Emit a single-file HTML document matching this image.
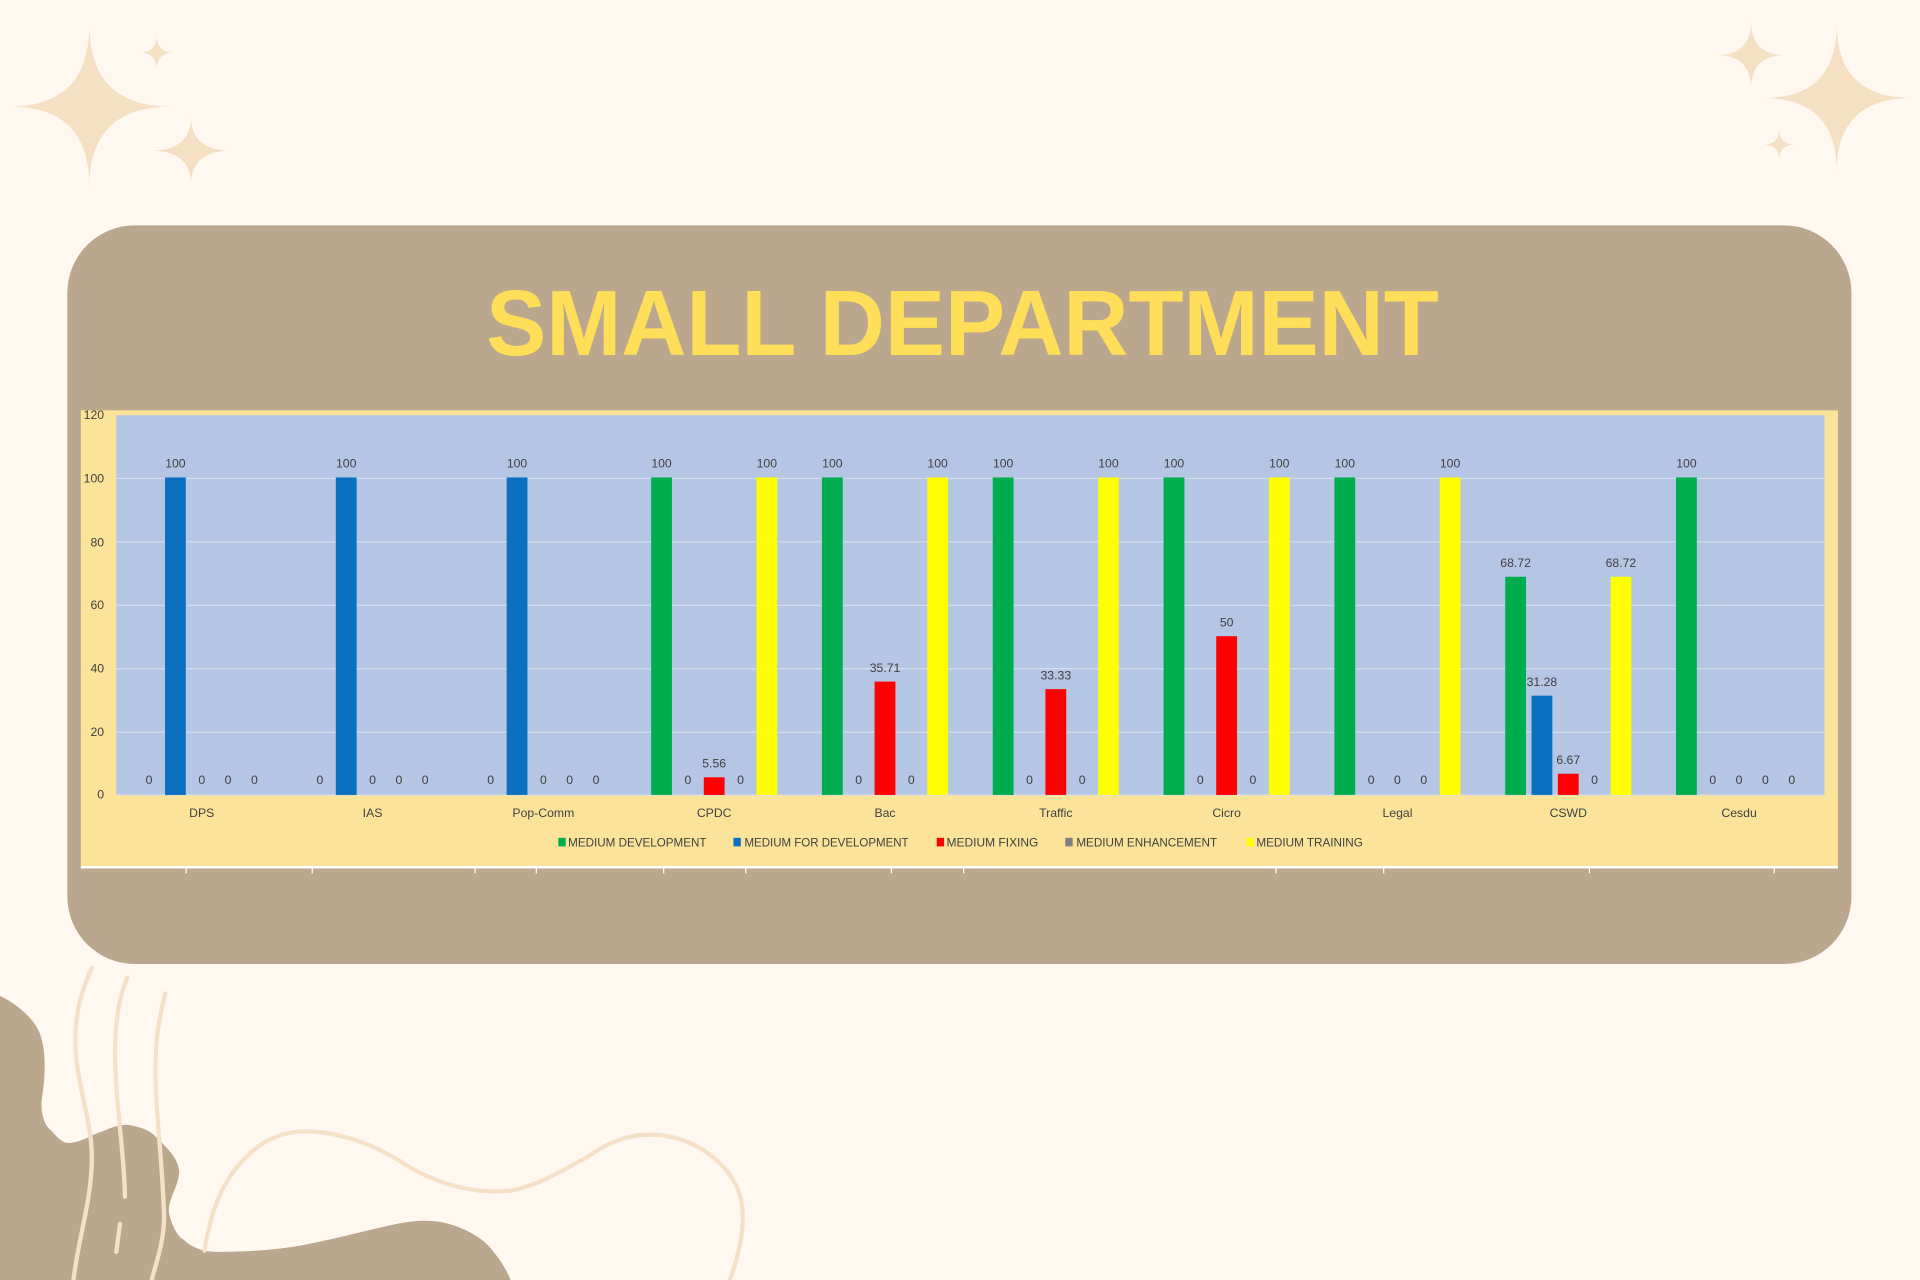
<!DOCTYPE html>
<html><head><meta charset="utf-8"><style>html,body{margin:0;padding:0;background:#FEF8F0;}svg{display:block}</style></head>
<body>
<svg width="1920" height="1280" viewBox="0 0 1568 1045" preserveAspectRatio="none" xmlns="http://www.w3.org/2000/svg" font-family="'Liberation Sans', sans-serif">
<rect width="1568" height="1045" fill="#FEF8F0"/>
<g fill="#F5E0C3">
<path d="M73,20 Q73,87 140,87 Q73,87 73,152 Q73,87 8,87 Q73,87 73,20Z"/>
<path d="M128,29 Q128,43 142,43 Q128,43 128,57 Q128,43 114,43 Q128,43 128,29Z"/>
<path d="M156,95 Q156,123 189,123 Q156,123 156,151 Q156,123 123,123 Q156,123 156,95Z"/>
<path d="M1500,20 Q1500,80 1562,80 Q1500,80 1500,140 Q1500,80 1440,80 Q1500,80 1500,20Z"/>
<path d="M1430,17 Q1430,45 1458,45 Q1430,45 1430,73 Q1430,45 1402,45 Q1430,45 1430,17Z"/>
<path d="M1453,105 Q1453,118 1466,118 Q1453,118 1453,131 Q1453,118 1440,118 Q1453,118 1453,105Z"/>
</g>
<path d="M0,813 C15,820 29,833 33,845 C38,860 37,880 34,898 C33,910 37,920 42,923 C48,930 52,934 58,933 C68,932 75,926 83,924 C92,920 100,917 108,919 C118,921 124,924 129,930 C140,940 148,950 146,960 C144,972 137,980 138,990 C140,1000 145,1010 150,1012 C158,1020 168,1022 179,1022 C205,1022 230,1020 250,1016 C280,1010 305,1003 325,999 C345,995 360,996 375,1002 C390,1008 398,1015 403,1022 C410,1030 415,1040 417,1045 L0,1045Z" fill="#BBA78E"/>
<g fill="none" stroke="#F5E1C8" stroke-width="3.5" stroke-linecap="round">
<path d="M75,790 C66,810 60,830 62,860 C64,890 75,915 75,945 C75,980 64,1010 60,1045"/>
<path d="M104,798 C98,812 94,830 94,860 C94,900 102,945 102,977"/>
<path d="M98,999 L95,1022"/>
<path d="M135,811 C129,835 127,850 127,875 C127,910 133,950 134,994 C134,1015 126,1035 124,1045"/>
<path d="M167,1021 C172,990 180,968 196,950 C215,928 235,922 258,924 C290,927 315,940 333,952 C360,968 390,975 417,972 C440,968 460,955 479,945 C500,930 520,924 542,927 C575,932 598,955 604,975 C610,995 605,1020 596,1045"/>
</g>
<rect x="55" y="184" width="1457" height="603" rx="55" ry="55" fill="#BBA78E"/>
<text x="786" y="290" text-anchor="middle" font-size="76" font-weight="bold" fill="#FFDE59" textLength="778" lengthAdjust="spacingAndGlyphs">SMALL DEPARTMENT</text>
<rect x="66" y="335" width="1435" height="373" fill="#FCE39A"/>
<line x1="66" y1="708" x2="1501" y2="708" stroke="#FFFFFF" stroke-width="2"/>
<g stroke="#FFFFFF" stroke-width="1"><line x1="152" y1="708" x2="152" y2="713"/><line x1="255" y1="708" x2="255" y2="713"/><line x1="388" y1="708" x2="388" y2="713"/><line x1="438" y1="708" x2="438" y2="713"/><line x1="542" y1="708" x2="542" y2="713"/><line x1="609" y1="708" x2="609" y2="713"/><line x1="728" y1="708" x2="728" y2="713"/><line x1="787" y1="708" x2="787" y2="713"/><line x1="1042" y1="708" x2="1042" y2="713"/><line x1="1130" y1="708" x2="1130" y2="713"/><line x1="1298" y1="708" x2="1298" y2="713"/><line x1="1449" y1="708" x2="1449" y2="713"/></g>
<rect x="95" y="339" width="1395" height="310" fill="#B4C6E4"/>
<g stroke="#D3DCEC" stroke-width="1">
<line x1="95" y1="390.6" x2="1490" y2="390.6"/><line x1="95" y1="442.4" x2="1490" y2="442.4"/><line x1="95" y1="494.2" x2="1490" y2="494.2"/><line x1="95" y1="546" x2="1490" y2="546"/><line x1="95" y1="597.8" x2="1490" y2="597.8"/><line x1="95" y1="649" x2="1490" y2="649"/>
</g>
<g font-size="10" fill="#404040" text-anchor="end">
<text x="85" y="342">120</text><text x="85" y="394">100</text><text x="85" y="446">80</text><text x="85" y="497">60</text><text x="85" y="549">40</text><text x="85" y="601">20</text><text x="85" y="652">0</text>
</g>
<g id="bars"></g>
<g font-size="10" fill="#404040" text-anchor="middle" id="xl"></g>
<g font-size="10" fill="#404040">
<rect x="456" y="684" width="6" height="7" fill="#00AD4E"/><text x="464" y="691" textLength="113" lengthAdjust="spacingAndGlyphs">MEDIUM DEVELOPMENT</text>
<rect x="599" y="684" width="6" height="7" fill="#0A70BF"/><text x="608" y="691" textLength="134" lengthAdjust="spacingAndGlyphs">MEDIUM FOR DEVELOPMENT</text>
<rect x="765" y="684" width="6" height="7" fill="#FF0000"/><text x="773" y="691" textLength="75" lengthAdjust="spacingAndGlyphs">MEDIUM FIXING</text>
<rect x="870" y="684" width="6" height="7" fill="#7F7F7F"/><text x="879" y="691" textLength="115" lengthAdjust="spacingAndGlyphs">MEDIUM ENHANCEMENT</text>
<rect x="1018" y="684" width="6" height="7" fill="#FFFF00"/><text x="1026" y="691" textLength="87" lengthAdjust="spacingAndGlyphs">MEDIUM TRAINING</text>
</g>
<script>
var cats=["DPS","IAS","Pop-Comm","CPDC","Bac","Traffic","Cicro","Legal","CSWD","Cesdu"];
var d=[[0,100,0,0,0],[0,100,0,0,0],[0,100,0,0,0],[100,0,5.56,0,100],[100,0,35.71,0,100],[100,0,33.33,0,100],[100,0,50,0,100],[100,0,0,0,100],[68.72,31.28,6.67,0,68.72],[100,0,0,0,0]];
var col=["#00AD4E","#0A70BF","#FF0000","#7F7F7F","#FFFF00"];
var ns="http://www.w3.org/2000/svg",g=document.getElementById("bars"),xl=document.getElementById("xl");
function el(t,a,p,txt){var e=document.createElementNS(ns,t);for(var k in a)e.setAttribute(k,a[k]);if(txt!==undefined)e.textContent=txt;p.appendChild(e);return e;}
for(var i=0;i<10;i++){var c=164.75+139.5*i;
el("text",{x:c,y:667},xl,cats[i]);
for(var s=0;s<5;s++){var v=d[i][s];var x=c+(s-2)*21.5;var h=v*2.592;
if(v>0){el("rect",{x:x-8.5,y:649-h,width:17,height:h,fill:col[s]},g);}
var ly=v>0?649-h-8:640;
el("text",{x:x,y:ly,"font-size":10,fill:"#404040","text-anchor":"middle"},g,String(v));}}
</script>
</svg>
</body></html>
